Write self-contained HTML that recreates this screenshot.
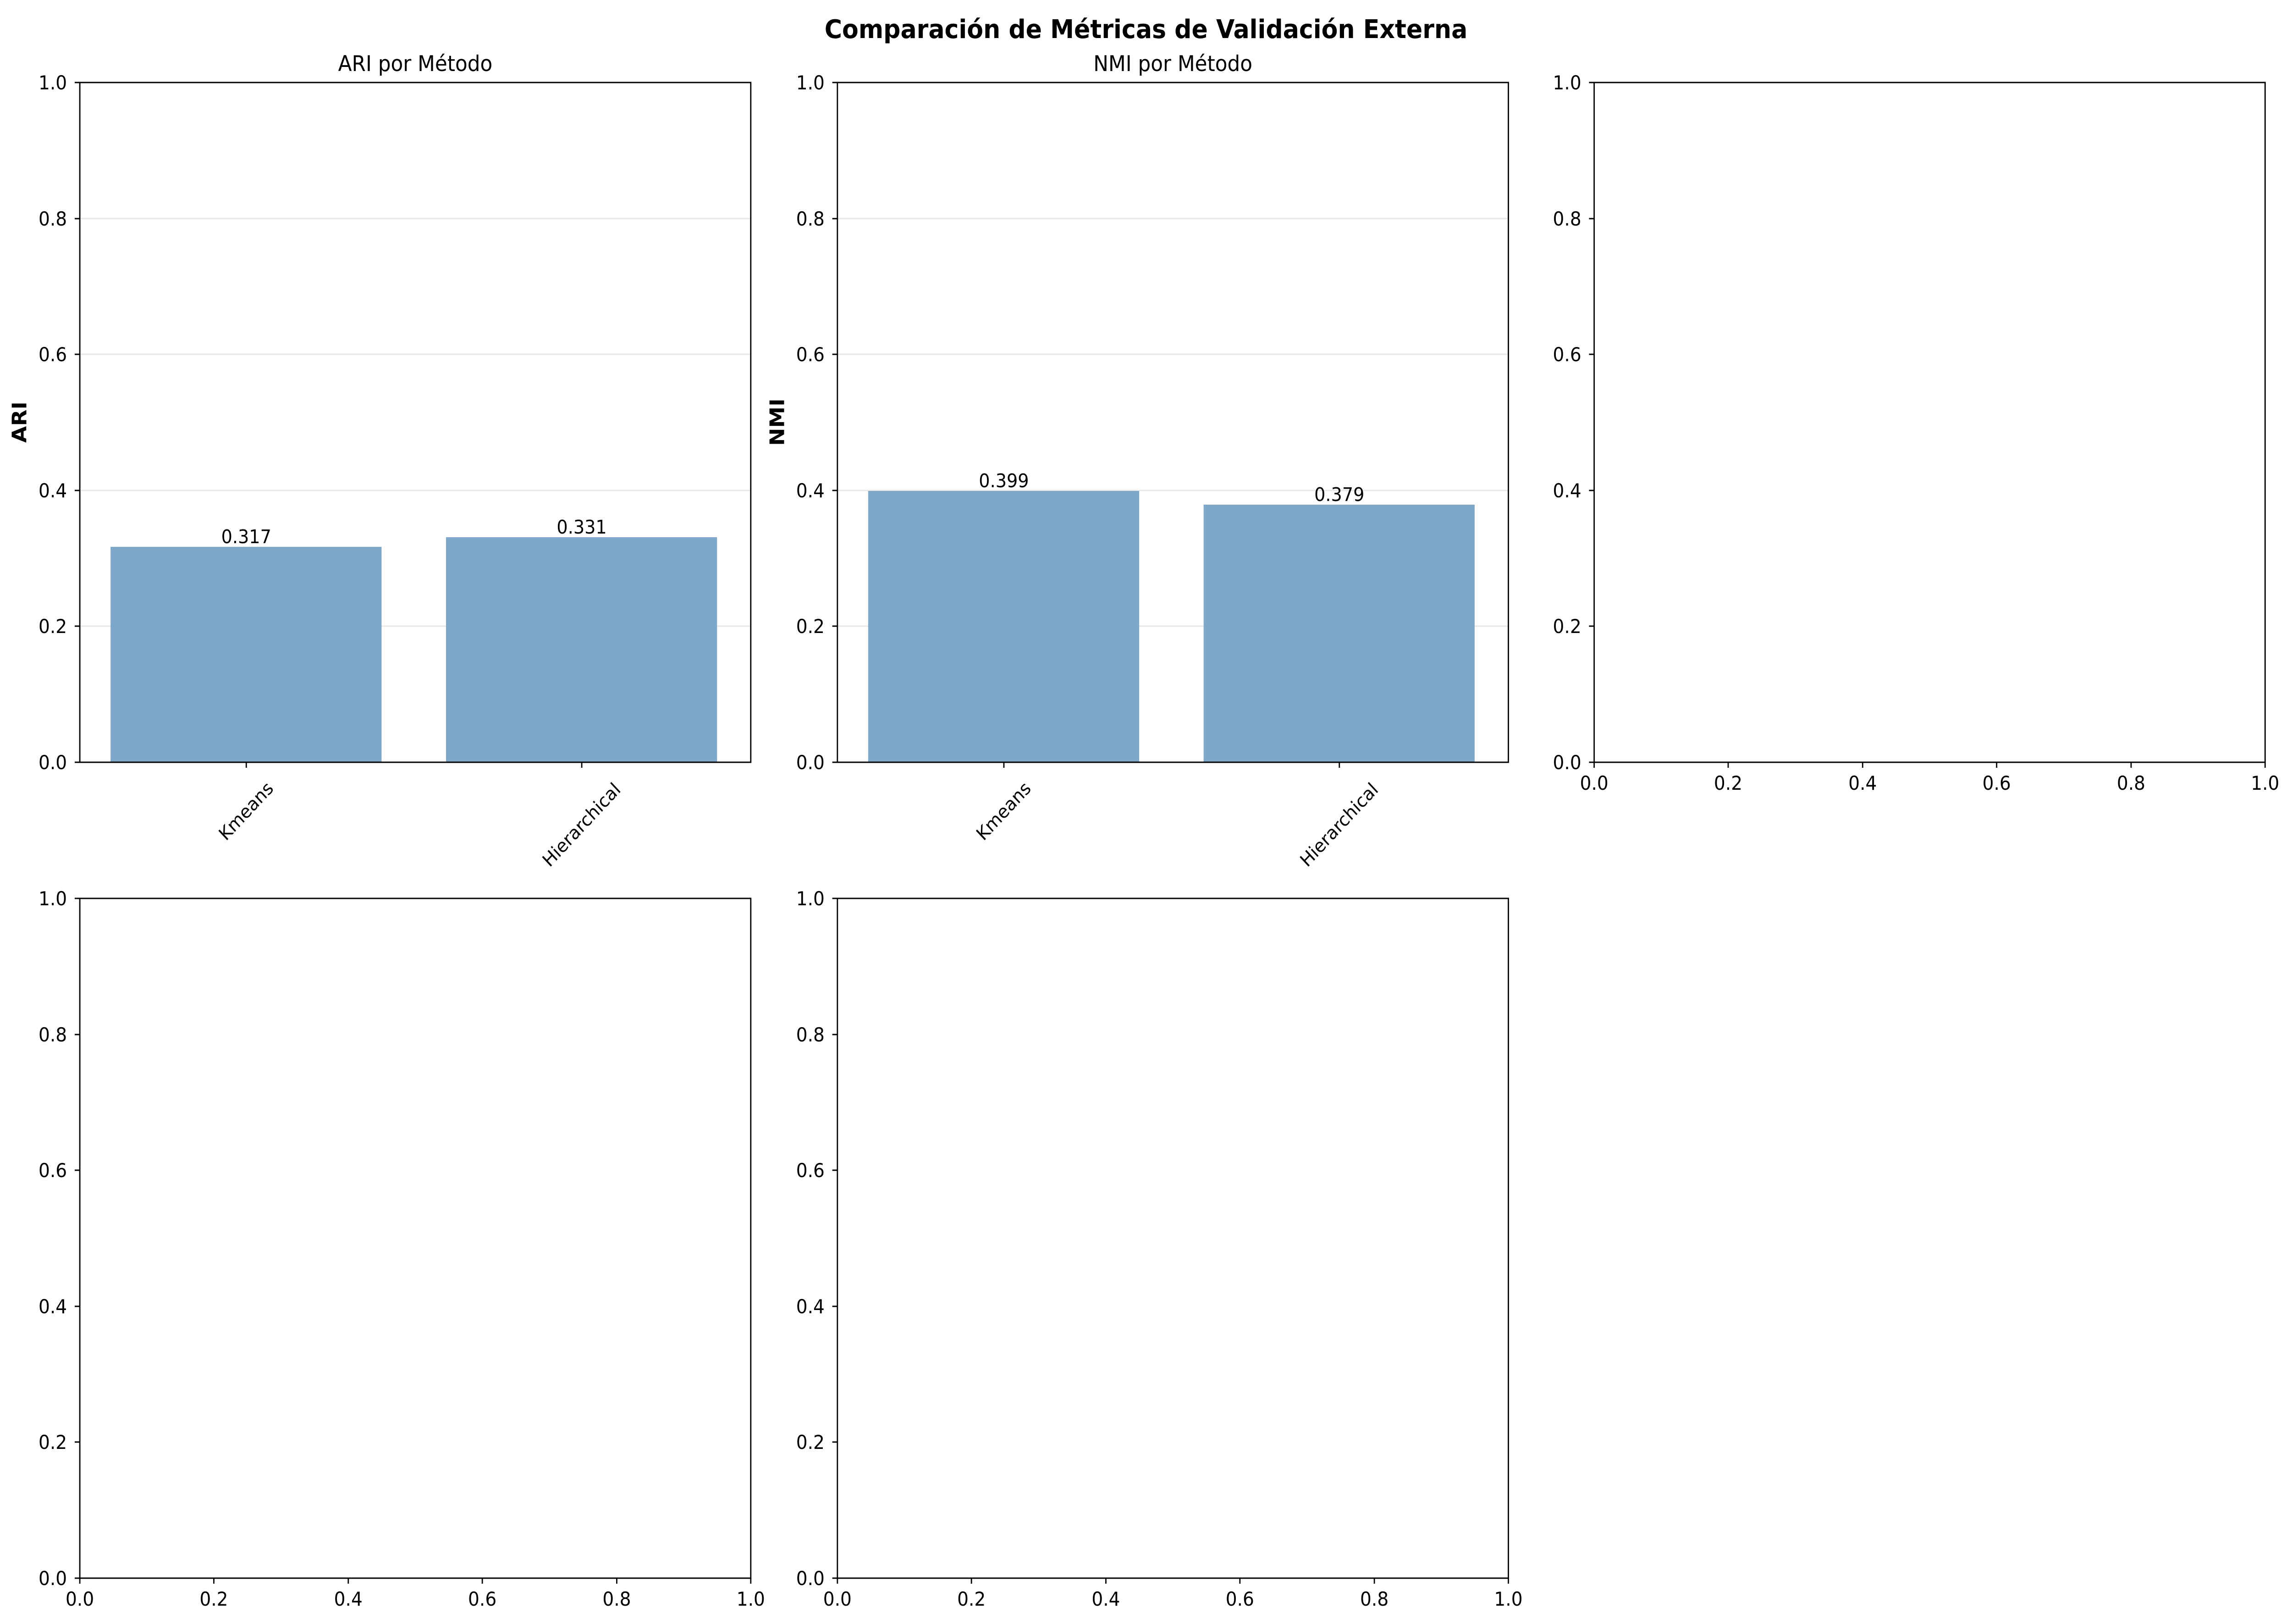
<!DOCTYPE html>
<html><head><meta charset="utf-8"><style>
html,body{margin:0;padding:0;background:#fff;overflow:hidden;}
svg{display:block;width:100vw;height:100vh;font-family:"DejaVu Sans","Liberation Sans",sans-serif;}
</style></head><body>
<svg viewBox="0 0 5370 3543" preserveAspectRatio="none" xmlns="http://www.w3.org/2000/svg">
<rect width="5370" height="3543" fill="#fff"/>
<text x="2685" y="83" font-size="56" font-weight="bold" text-anchor="middle">Comparación de Métricas de Validación Externa</text>

<!-- Panel 1 ARI -->
<g>
<text x="973" y="155" font-size="47" text-anchor="middle">ARI por Método</text>
<g stroke="#e8e8e8" stroke-width="3">
<line x1="187" x2="1759" y1="1366" y2="1366"/>
<line x1="187" x2="1759" y1="1070" y2="1070"/>
<line x1="187" x2="1759" y1="773" y2="773"/>
<line x1="187" x2="1759" y1="477" y2="477"/>
</g>
<rect x="259" y="1193" width="635" height="470" fill="#7ea7ca"/>
<rect x="1045" y="1172" width="635" height="491" fill="#7ea7ca"/>
<text x="577" y="1185" font-size="41" text-anchor="middle">0.317</text>
<text x="1363" y="1164" font-size="41" text-anchor="middle">0.331</text>
<rect x="187" y="180" width="1572" height="1483" fill="none" stroke="#000" stroke-width="3"/>
<g stroke="#000" stroke-width="3">
<line x1="175" x2="187" y1="1663" y2="1663"/><line x1="175" x2="187" y1="1366" y2="1366"/>
<line x1="175" x2="187" y1="1070" y2="1070"/><line x1="175" x2="187" y1="773" y2="773"/>
<line x1="175" x2="187" y1="477" y2="477"/><line x1="175" x2="187" y1="180" y2="180"/>
<line x1="577" x2="577" y1="1663" y2="1675"/><line x1="1363" x2="1363" y1="1663" y2="1675"/>
</g>
<g font-size="42" text-anchor="end">
<text x="157" y="1678">0.0</text><text x="157" y="1381">0.2</text><text x="157" y="1085">0.4</text>
<text x="157" y="788">0.6</text><text x="157" y="492">0.8</text><text x="157" y="195">1.0</text>
</g>
<text transform="translate(62,921) rotate(-90)" font-size="47" font-weight="bold" text-anchor="middle">ARI</text>
<text transform="translate(577,1770) rotate(-45)" font-size="40" text-anchor="middle" dominant-baseline="central">Kmeans</text>
<text transform="translate(1363,1800) rotate(-45)" font-size="40" text-anchor="middle" dominant-baseline="central">Hierarchical</text>
</g>

<!-- Panel 2 NMI -->
<g transform="translate(1775,0)">
<text x="973" y="155" font-size="47" text-anchor="middle">NMI por Método</text>
<g stroke="#e8e8e8" stroke-width="3">
<line x1="187" x2="1759" y1="1366" y2="1366"/>
<line x1="187" x2="1759" y1="1070" y2="1070"/>
<line x1="187" x2="1759" y1="773" y2="773"/>
<line x1="187" x2="1759" y1="477" y2="477"/>
</g>
<rect x="259" y="1071" width="635" height="592" fill="#7ea7ca"/>
<rect x="1045" y="1101" width="635" height="562" fill="#7ea7ca"/>
<text x="577" y="1063" font-size="41" text-anchor="middle">0.399</text>
<text x="1363" y="1093" font-size="41" text-anchor="middle">0.379</text>
<rect x="187" y="180" width="1572" height="1483" fill="none" stroke="#000" stroke-width="3"/>
<g stroke="#000" stroke-width="3">
<line x1="175" x2="187" y1="1663" y2="1663"/><line x1="175" x2="187" y1="1366" y2="1366"/>
<line x1="175" x2="187" y1="1070" y2="1070"/><line x1="175" x2="187" y1="773" y2="773"/>
<line x1="175" x2="187" y1="477" y2="477"/><line x1="175" x2="187" y1="180" y2="180"/>
<line x1="577" x2="577" y1="1663" y2="1675"/><line x1="1363" x2="1363" y1="1663" y2="1675"/>
</g>
<g font-size="42" text-anchor="end">
<text x="157" y="1678">0.0</text><text x="157" y="1381">0.2</text><text x="157" y="1085">0.4</text>
<text x="157" y="788">0.6</text><text x="157" y="492">0.8</text><text x="157" y="195">1.0</text>
</g>
<text transform="translate(62,921) rotate(-90)" font-size="47" font-weight="bold" text-anchor="middle">NMI</text>
<text transform="translate(577,1770) rotate(-45)" font-size="40" text-anchor="middle" dominant-baseline="central">Kmeans</text>
<text transform="translate(1363,1800) rotate(-45)" font-size="40" text-anchor="middle" dominant-baseline="central">Hierarchical</text>
</g>

<!-- Empty panels -->
<defs>
<g id="empty">
<rect x="0" y="0" width="1572" height="1483" fill="none" stroke="#000" stroke-width="3"/>
<g stroke="#000" stroke-width="3">
<line x1="-12" x2="0" y1="1483" y2="1483"/><line x1="-12" x2="0" y1="1186" y2="1186"/>
<line x1="-12" x2="0" y1="890" y2="890"/><line x1="-12" x2="0" y1="593" y2="593"/>
<line x1="-12" x2="0" y1="297" y2="297"/><line x1="-12" x2="0" y1="0" y2="0"/>
<line x1="0" x2="0" y1="1483" y2="1495"/><line x1="314" x2="314" y1="1483" y2="1495"/>
<line x1="629" x2="629" y1="1483" y2="1495"/><line x1="943" x2="943" y1="1483" y2="1495"/>
<line x1="1258" x2="1258" y1="1483" y2="1495"/><line x1="1572" x2="1572" y1="1483" y2="1495"/>
</g>
<g font-size="42" text-anchor="end">
<text x="-30" y="1498">0.0</text><text x="-30" y="1201">0.2</text><text x="-30" y="905">0.4</text>
<text x="-30" y="608">0.6</text><text x="-30" y="312">0.8</text><text x="-30" y="15">1.0</text>
</g>
<g font-size="42" text-anchor="middle">
<text x="0" y="1543">0.0</text><text x="314" y="1543">0.2</text><text x="629" y="1543">0.4</text>
<text x="943" y="1543">0.6</text><text x="1258" y="1543">0.8</text><text x="1572" y="1543">1.0</text>
</g>
</g>
</defs>
<use href="#empty" x="3735" y="180"/>
<use href="#empty" x="187" y="1960"/>
<use href="#empty" x="1962" y="1960"/>
</svg>
</body></html>
